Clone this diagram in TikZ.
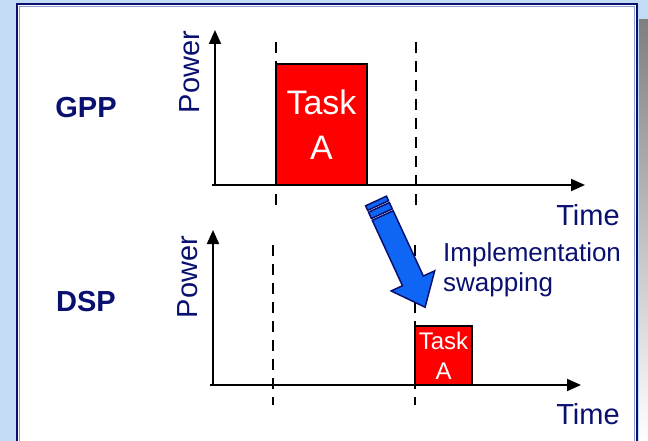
\documentclass[tikz,border=0pt]{standalone}
\usepackage{fontspec}
\setmainfont{Liberation Sans}
\usetikzlibrary{arrows.meta,positioning}
\definecolor{navy}{HTML}{0A1070}
\definecolor{paleblue}{HTML}{C4DBF6}
\definecolor{shade}{HTML}{8F959A}
\definecolor{swapblue}{HTML}{0F66F5}
\definecolor{taskred}{HTML}{FF0000}
\tikzset{
    axis/.style={draw=black,line width=2pt,-{Triangle[length=14pt,width=12pt]}},
    marker/.style={draw=black,line width=2pt,dash pattern=on 11pt off 8pt},
    taskbox/.style={draw=black,fill=taskred,line width=1.6pt,text=white,
      align=center,inner sep=0pt},
    unitlabel/.style={text=navy,inner sep=0pt,font=\fontsize{29}{34}\selectfont\bfseries},
    axislabel/.style={text=navy,inner sep=0pt,font=\fontsize{29}{34}\selectfont},
    swaparrow/.style={draw=navy,fill=swapblue,line width=1.5pt,line join=miter}
}
\begin{document}
\begin{tikzpicture}[x=1pt,y=-1pt]
  \useasboundingbox (0,0) rectangle (648,441);
  % slide frame
  \fill[paleblue] (0,0) rectangle (648,441);
  \fill[shade] (639,20) rectangle (648,441);
  \draw[navy,fill=white,line width=2pt] (17,4) rectangle (637,450);
  \draw[paleblue!70!navy,line width=0.8pt] (19.5,6.5) rectangle (634.5,450);

  % processor names
  \node[unitlabel] (gpp) at (86,108) {GPP};
  \node[unitlabel] (dsp) at (86,302) {DSP};

  % axes of both plots
  \coordinate (o1) at (215,185);
  \coordinate (o2) at (213,385);
  \draw[axis] ([xshift=-3pt]o1) -- (585,185) coordinate (t1);
  \draw[axis] (o1) -- (215,30) coordinate (p1);
  \draw[axis] ([xshift=-3pt]o2) -- (581,385) coordinate (t2);
  \draw[axis] (o2) -- (213,230) coordinate (p2);
  \node[axislabel,rotate=90] (power1) at (190,72) {Power};
  \node[axislabel,rotate=90] (power2) at (188,277) {Power};
  \node[axislabel] (time1) at (588,215) {Time};
  \node[axislabel] (time2) at (588,414) {Time};

  % task running on each unit
  \node[taskbox,minimum width=91pt,minimum height=121pt,
    font=\fontsize{34}{45}\selectfont] (taskgpp) at (321.5,124.5) {Task\\A};
  \node[taskbox,minimum width=57pt,minimum height=59pt,
    font=\fontsize{24}{30}\selectfont] (taskdsp) at (443.5,355.5) {Task\\A};

  % time markers
  \foreach \m/\x/\ya/\yb in {a/276/42/208,b/416/42/208,c/273/245/405,d/415/245/405} {
    \coordinate (m\m top) at (\x,\ya);
    \coordinate (m\m bot) at (\x,\yb);
    \draw[marker] (m\m top) -- (m\m bot);
  }

  \node[text=navy,align=left,anchor=west,inner sep=0pt,
    font=\fontsize{26}{30}\selectfont] (swap) at (443,270)
    {Implementation\\swapping};

  % block arrow with striped tail
  \begin{scope}[shift={(376,201)},rotate=-65.2]
    \draw[swaparrow] (0,-11.5) rectangle (5,11.5);
    \draw[swaparrow] (7,-11.5) rectangle (14,11.5);
    \draw[swaparrow] (16,-11.5) -- (88,-11.5) -- (88,-24) -- (117,0)
      -- (88,24) -- (88,11.5) -- (16,11.5) -- cycle;
  \end{scope}
\end{tikzpicture}
\end{document}
